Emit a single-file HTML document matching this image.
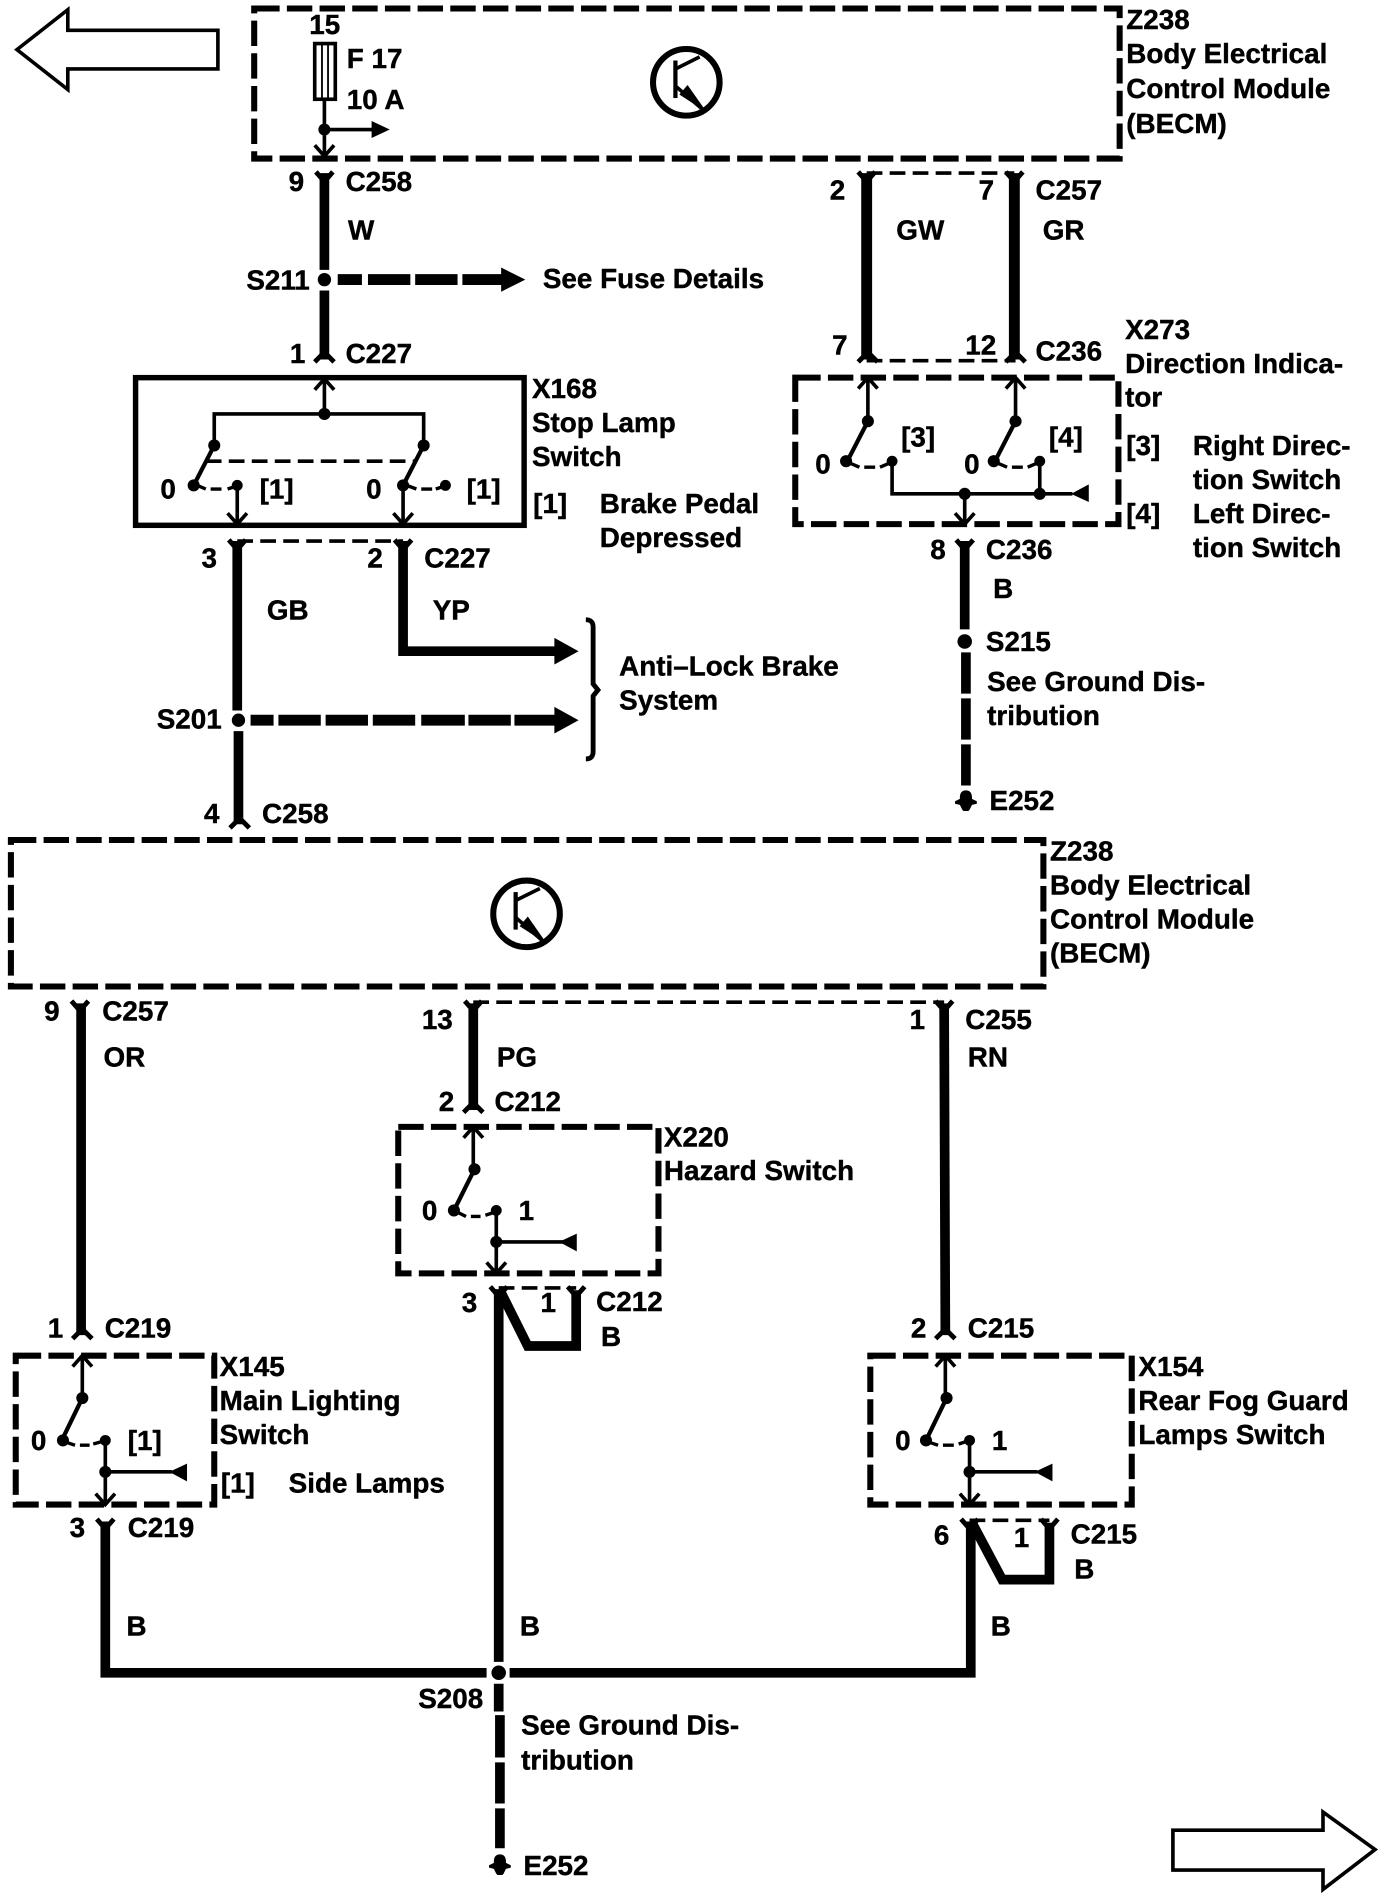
<!DOCTYPE html>
<html><head><meta charset="utf-8"><title>Wiring diagram</title>
<style>
html,body{margin:0;padding:0;background:#fff;width:1392px;height:1896px;overflow:hidden}
svg{display:block}
text{font-family:"Liberation Sans",sans-serif;font-weight:bold;font-size:23px;fill:#000;stroke:#000;stroke-width:.35px}
.w{stroke:#000;fill:none;stroke-width:8}
.t{stroke:#000;fill:none;stroke-width:3}
.box{stroke:#000;fill:none;stroke-width:5;stroke-dasharray:21 6}
.dl{stroke:#000;fill:none;stroke-width:3;stroke-dasharray:13 6}
</style></head><body>
<svg xmlns="http://www.w3.org/2000/svg" width="1392" height="1896" viewBox="0 0 1150 1566.4">
<defs>
<g id="fd"><path d="M-7 -1 L0 7 L7 -1" stroke="#000" stroke-width="4" fill="none"/></g>
<g id="fu"><path d="M-8 1 L0 -7 L8 1" stroke="#000" stroke-width="4" fill="none"/></g>
<g id="au"><path d="M-8 9 L0 0 L8 9" stroke="#000" stroke-width="3" fill="none"/></g>
<g id="ad"><path d="M-8 -9 L0 0 L8 -9" stroke="#000" stroke-width="3" fill="none"/></g>
<g id="gnd"><path d="M0 -9 C4 -9 5 -6 5 -3 L5 -2 L9 0 L9 2 L5 3 L3 7 L2 8 L-2 8 L-3 7 L-5 3 L-9 2 L-9 0 L-5 -2 L-5 -3 C-5 -6 -4 -9 0 -9Z" fill="#000"/></g>
<g id="tr"><circle r="27.5" fill="none" stroke="#000" stroke-width="5"/><path d="M-9 -18V13" stroke="#000" stroke-width="3.5" fill="none"/><path d="M-9 -11L11 -21M-9 3L13 22" stroke="#000" stroke-width="3" fill="none"/><path d="M-5 10L1 3L15 23Z" fill="#000" stroke="#000" stroke-width="1"/></g>
</defs>
<rect width="1150" height="1566.4" fill="#fff"/>

<!-- page arrows -->
<path d="M14 41L56 8V25H180V57H56V74Z" fill="none" stroke="#000" stroke-width="3"/>
<path d="M969 1512H1093V1497L1136 1528L1093 1561V1545H969Z" fill="none" stroke="#000" stroke-width="3"/>

<!-- top module -->
<rect class="box" x="210" y="7" width="715" height="124"/>
<use href="#tr" x="567" y="68"/>
<rect x="260" y="36" width="17" height="46" fill="none" stroke="#000" stroke-width="3"/>
<path d="M266 37V81M271 37V81" stroke="#000" stroke-width="1.5"/>
<path class="t" d="M268 82V128M268 107H308"/>
<circle cx="268" cy="107" r="5"/>
<path d="M307 100L322 107L307 114Z"/>
<use href="#ad" x="268" y="129"/>

<!-- wire W -->
<path class="w" d="M268 143V223M268 240V297"/>
<use href="#fd" x="268" y="143"/><use href="#fu" x="268" y="298"/>
<circle cx="268" cy="231" r="5.5"/>
<path d="M279 231H299M304 231H339M343 231H378M382 231H415" stroke="#000" stroke-width="9" fill="none"/>
<path d="M414 221L434 231L414 241Z"/>

<!-- X168 -->
<rect x="112" y="312" width="321" height="122" fill="none" stroke="#000" stroke-width="4.5"/>
<use href="#au" x="268" y="313"/>
<path class="t" d="M268 313V342M177 368V342H350V368"/>
<circle cx="268" cy="342" r="5"/><circle cx="177" cy="368" r="5"/><circle cx="350" cy="368" r="5"/>
<path d="M177 368L160 401M350 368L333 401" stroke="#000" stroke-width="3.5" fill="none"/>
<circle cx="160" cy="401" r="5"/><circle cx="333" cy="401" r="5"/>
<circle cx="196" cy="401" r="4.5"/><circle cx="368" cy="401" r="4.5"/>
<path class="dl" d="M170 381H342"/>
<path d="M163 401L170 404M174 404H183M188 404L194 402M336 401L344 404M348 404H357M360 404L366 402" stroke="#000" stroke-width="2.8" fill="none"/>
<path class="t" d="M196 401V433M333 401V433"/>
<use href="#ad" x="196" y="433"/><use href="#ad" x="333" y="433"/>

<!-- GB / YP -->
<path class="dl" d="M196 447H333"/>
<path class="w" d="M196 447V587M197 604V681"/>
<use href="#fd" x="196" y="447"/><use href="#fd" x="333" y="447"/><use href="#fu" x="198" y="683"/>
<circle cx="197" cy="595" r="5.5"/>
<path class="w" d="M333 447V538H460"/>
<path d="M458 527L478 538L458 549Z"/>
<path d="M207 595H226M230 595H265M269 595H304M308 595H343M348 595H384M387 595H422M425 595H460" stroke="#000" stroke-width="9" fill="none"/>
<path d="M458 584L478 595L458 606Z"/>
<path d="M484 512Q490 512 490 518V565L494 570L490 575V621Q490 627 484 627" stroke="#000" stroke-width="4" fill="none"/>

<!-- GW GR -->
<path class="dl" d="M716 143H838M716 298H839"/>
<path d="M716 143V297M838 143V297" stroke="#000" stroke-width="9" fill="none"/>
<use href="#fd" x="716" y="143"/><use href="#fd" x="838" y="143"/><use href="#fu" x="717" y="298"/><use href="#fu" x="839" y="298"/>

<!-- X273 -->
<rect class="box" x="657" y="312" width="267" height="121"/>
<use href="#au" x="717" y="312"/><use href="#au" x="839" y="312"/>
<path class="t" d="M717 312V348M839 312V348"/>
<circle cx="717" cy="348" r="5"/><circle cx="839" cy="348" r="5"/>
<path d="M717 348L700 381M839 348L822 381" stroke="#000" stroke-width="3.5"/>
<circle cx="699" cy="381" r="5"/><circle cx="821" cy="381" r="5"/>
<circle cx="737" cy="381" r="4.5"/><circle cx="859" cy="381" r="4.5"/>
<path d="M703 383L710 386M714 386H723M727 386L734 383M825 383L832 386M836 386H845M849 386L856 383" stroke="#000" stroke-width="2.8" fill="none"/>
<path class="t" d="M737 381V408H886M859 381V408M797 408V432"/>
<circle cx="797" cy="408" r="5"/><circle cx="859" cy="408" r="5"/>
<path d="M899 401V414L886 408Z" stroke="#000"/>
<use href="#ad" x="797" y="433"/>

<!-- wire B S215 -->
<use href="#fd" x="797" y="447"/>
<path class="w" d="M797 447V520M798 539V573M798 577V611M798 615V649"/>
<circle cx="797" cy="530" r="6"/>
<use href="#gnd" x="798" y="662"/>

<!-- second module -->
<rect class="box" x="9" y="694" width="853" height="121"/>
<use href="#tr" x="435" y="755"/>

<use href="#fd" x="66" y="828"/>
<path class="w" d="M67 829V1103"/>
<use href="#fu" x="68" y="1105"/>
<path class="dl" d="M391 828H780"/>
<path class="w" d="M391 829V917"/>
<use href="#fd" x="391" y="828"/><use href="#fu" x="391" y="918"/>
<path class="w" d="M780 829L781 1103"/>
<use href="#fd" x="780" y="828"/><use href="#fu" x="781" y="1105"/>

<!-- X220 -->
<rect class="box" x="329" y="931" width="215" height="121"/>
<use href="#au" x="391" y="931"/>
<path class="t" d="M391 931V966"/>
<circle cx="392" cy="966" r="5"/>
<path d="M392 966L376 998" stroke="#000" stroke-width="3.5"/>
<circle cx="375" cy="1000" r="5"/><circle cx="410" cy="1000" r="4.5"/>
<path d="M379 1002L385 1005M389 1005H397M401 1004L407 1002" stroke="#000" stroke-width="2.8" fill="none"/>
<path class="t" d="M410 1000V1051M410 1026H465"/>
<circle cx="410" cy="1026" r="5"/>
<path d="M476 1020V1033L463 1026Z" stroke="#000"/>
<use href="#ad" x="410" y="1052"/>

<!-- C212 lower -->
<path class="dl" d="M412 1064H476"/>
<use href="#fd" x="412" y="1064"/><use href="#fd" x="476" y="1064"/>
<path class="w" d="M412 1065V1373M412 1391V1414M413 1417V1452M413 1456V1490M413 1494V1527"/>
<path class="w" d="M413 1066L436 1112H476V1066"/>
<circle cx="412" cy="1382" r="6"/>
<use href="#gnd" x="413" y="1541"/>

<!-- bus -->
<path class="w" d="M87 1257V1382H402"/>
<path class="w" d="M421 1382H802V1257"/>

<!-- X145 -->
<rect class="box" x="13" y="1120" width="164" height="123"/>
<use href="#au" x="68" y="1120"/>
<path class="t" d="M68 1120V1155"/>
<circle cx="68" cy="1155" r="5"/>
<path d="M68 1155L52 1188" stroke="#000" stroke-width="3.5"/>
<circle cx="52" cy="1190" r="5"/><circle cx="87" cy="1190" r="4.5"/>
<path d="M56 1192L62 1194M66 1194H74M77 1193L84 1191" stroke="#000" stroke-width="2.8" fill="none"/>
<path class="t" d="M87 1190V1241M87 1216H142"/>
<circle cx="87" cy="1216" r="5"/>
<path d="M154 1210V1223L141 1216Z" stroke="#000"/>
<use href="#ad" x="87" y="1243"/>
<use href="#fd" x="87" y="1256"/>

<!-- X154 -->
<rect class="box" x="719" y="1120" width="216" height="123"/>
<use href="#au" x="781" y="1120"/>
<path class="t" d="M781 1120V1155"/>
<circle cx="782" cy="1155" r="5"/>
<path d="M782 1155L766 1188" stroke="#000" stroke-width="3.5"/>
<circle cx="765" cy="1190" r="5"/><circle cx="801" cy="1190" r="4.5"/>
<path d="M769 1192L775 1194M779 1194H788M792 1193L798 1191" stroke="#000" stroke-width="2.8" fill="none"/>
<path class="t" d="M801 1190V1241M801 1216H857"/>
<circle cx="801" cy="1216" r="5"/>
<path d="M869 1210V1223L856 1216Z" stroke="#000"/>
<use href="#ad" x="801" y="1243"/>
<path class="dl" d="M801 1256H867"/>
<use href="#fd" x="801" y="1256"/><use href="#fd" x="867" y="1256"/>
<path class="w" d="M803 1258L828 1305H867V1258"/>

<!-- labels above y=200 -->
<g transform="translate(-.5,0)">
<text x="256" y="28">15</text><text x="287" y="56">F 17</text><text x="287" y="90">10 A</text>
<text x="931" y="24">Z238</text><text x="931" y="52">Body Electrical</text><text x="931" y="81">Control Module</text><text x="931" y="110">(BECM)</text>
<text x="239" y="158">9</text><text x="286" y="158">C258</text><text x="288" y="198">W</text>
<text x="686" y="165">2</text><text x="809" y="165">7</text><text x="856" y="165">C257</text>
<text x="741" y="198">GW</text><text x="862" y="198">GR</text>
</g>
<!-- labels below -->
<g transform="translate(-.5,-1)">
<text x="204" y="240">S211</text><text x="449" y="239">See Fuse Details</text>
<text x="240" y="301">1</text><text x="286" y="301">C227</text>
<text x="440" y="330">X168</text><text x="440" y="358">Stop Lamp</text><text x="440" y="386">Switch</text>
<text x="441" y="425">[1]</text><text x="496" y="425">Brake Pedal</text><text x="496" y="453">Depressed</text>
<text x="133" y="413">0</text><text x="215" y="413">[1]</text><text x="303" y="413">0</text><text x="386" y="413">[1]</text>
<text x="167" y="470">3</text><text x="304" y="470">2</text><text x="351" y="470">C227</text>
<text x="221" y="513">GB</text><text x="358" y="513">YP</text>
<text x="512" y="559">Anti–Lock Brake</text><text x="512" y="587">System</text>
<text x="130" y="603">S201</text>
<text x="169" y="681">4</text><text x="217" y="681">C258</text>
<text x="688" y="294">7</text><text x="798" y="294">12</text><text x="856" y="299">C236</text>
<text x="930" y="281">X273</text><text x="930" y="309">Direction Indica-</text><text x="930" y="337">tor</text>
<text x="931" y="377">[3]</text><text x="986" y="377">Right Direc-</text><text x="986" y="405">tion Switch</text>
<text x="931" y="433">[4]</text><text x="986" y="433">Left Direc-</text><text x="986" y="461">tion Switch</text>
<text x="745" y="370">[3]</text><text x="867" y="370">[4]</text><text x="674" y="392">0</text><text x="797" y="392">0</text>
<text x="769" y="463">8</text><text x="815" y="463">C236</text><text x="821" y="495">B</text>
<text x="815" y="539">S215</text><text x="816" y="572">See Ground Dis-</text><text x="816" y="600">tribution</text>
<text x="818" y="670">E252</text>
<text x="868" y="712">Z238</text><text x="868" y="740">Body Electrical</text><text x="868" y="768">Control Module</text><text x="868" y="796">(BECM)</text>
<text x="37" y="844">9</text><text x="85" y="844">C257</text><text x="86" y="882">OR</text>
<text x="349" y="851">13</text><text x="411" y="882">PG</text>
<text x="752" y="851">1</text><text x="798" y="851">C255</text><text x="800" y="882">RN</text>
<text x="363" y="919">2</text><text x="409" y="919">C212</text>
<text x="549" y="948">X220</text><text x="549" y="976">Hazard Switch</text>
<text x="349" y="1009">0</text><text x="429" y="1009">1</text>
<text x="382" y="1085">3</text><text x="447" y="1085">1</text><text x="493" y="1084">C212</text><text x="497" y="1113">B</text>
<text x="40" y="1106">1</text><text x="87" y="1106">C219</text>
<text x="182" y="1138">X145</text><text x="182" y="1166">Main Lighting</text><text x="182" y="1194">Switch</text>
<text x="26" y="1199">0</text><text x="106" y="1199">[1]</text>
<text x="183" y="1234">[1]</text><text x="239" y="1234">Side Lamps</text>
<text x="58" y="1271">3</text><text x="106" y="1271">C219</text>
<text x="105" y="1352">B</text><text x="430" y="1352">B</text><text x="819" y="1352">B</text>
<text x="346" y="1412">S208</text><text x="431" y="1434">See Ground Dis-</text><text x="431" y="1463">tribution</text>
<text x="433" y="1550">E252</text>
<text x="753" y="1106">2</text><text x="800" y="1106">C215</text>
<text x="941" y="1138">X154</text><text x="941" y="1166">Rear Fog Guard</text><text x="941" y="1194">Lamps Switch</text>
<text x="740" y="1199">0</text><text x="820" y="1199">1</text>
<text x="772" y="1277">6</text><text x="838" y="1279">1</text><text x="885" y="1276">C215</text><text x="888" y="1305">B</text>
</g>
</svg>
</body></html>
